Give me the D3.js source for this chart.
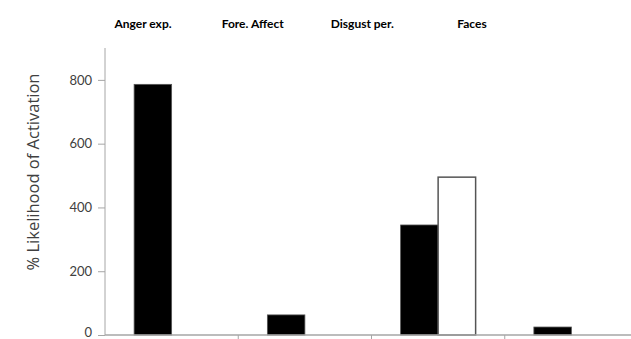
<!DOCTYPE html>
<html><head><meta charset="utf-8">
<script src="https://cdn.jsdelivr.net/npm/d3@7/dist/d3.min.js"></script>
<style>body{margin:0;background:#fff;} svg{display:block;}</style>
</head><body>
<svg id="chart" width="631" height="339"></svg>
<script>
const categories = ["Anger exp.", "Fore. Affect", "Disgust per.", "Faces"];
const series1 = [786, 63, 345, 25];
const series2 = [0, 0, 495, 0];
const yTicks = [0, 200, 400, 600, 800];
const yLabel = "% Likelihood of Activation";

const svg = d3.select("#chart");
const font = "Lato, 'Open Sans', sans-serif";
const x = d3.scaleBand().domain(categories).range([105, 638]).padding(0);
const y = d3.scaleLinear().domain([0, 900]).range([335, 48]);
const barW = 37.5;
const groupOff = (x.bandwidth() - 2 * barW) / 2;

// bars
const g = svg.append("g");
g.selectAll("rect.s1").data(categories).join("rect")
  .attr("x", (d) => x(d) + groupOff)
  .attr("y", (d, i) => y(series1[i]))
  .attr("width", barW)
  .attr("height", (d, i) => y(0) - y(series1[i]))
  .attr("fill", "#000").attr("stroke", "#555").attr("stroke-width", 0.8);
g.selectAll("rect.s2").data(categories.filter((d, i) => series2[i] > 0)).join("rect")
  .attr("x", (d) => x(d) + groupOff + barW)
  .attr("y", (d) => y(series2[categories.indexOf(d)]))
  .attr("width", barW)
  .attr("height", (d) => y(0) - y(series2[categories.indexOf(d)]))
  .attr("fill", "#fff").attr("stroke", "#555").attr("stroke-width", 1.5);

// y axis
const yAxis = svg.append("g").attr("transform", "translate(105,0)")
  .call(d3.axisLeft(y).tickValues(yTicks).tickSize(7).tickPadding(6));
yAxis.select(".domain").attr("stroke", "#a6a6a6").attr("d", `M0,${y(900)}V${y(0)}`);
yAxis.selectAll(".tick line").attr("stroke", "#a6a6a6");
yAxis.selectAll(".tick text").attr("fill", "#404040").attr("font-family", font).attr("font-size", 13)
  .attr("dy", (d) => d === 0 ? "0.1em" : "0.32em");

// x axis
const xAxis = svg.append("g").attr("transform", `translate(0,${y(0)})`);
xAxis.append("line").attr("x1", 105).attr("x2", 638).attr("stroke", "#a6a6a6").attr("stroke-width", 1.5);
xAxis.selectAll("line.t").data(categories.slice(1)).join("line")
  .attr("x1", (d) => x(d)).attr("x2", (d) => x(d))
  .attr("y1", 0).attr("y2", 4).attr("stroke", "#a6a6a6");

// category labels at top
const lx = d3.scalePoint().domain(categories).range([143, 472]);
svg.append("g").selectAll("text").data(categories).join("text")
  .attr("x", (d) => lx(d)).attr("y", 28)
  .attr("text-anchor", "middle")
  .attr("font-family", font).attr("font-weight", "bold").attr("font-size", 12)
  .attr("fill", "#000").text((d) => d);

// y label
svg.append("text")
  .attr("transform", "translate(39,172) rotate(-90)")
  .attr("text-anchor", "middle")
  .attr("font-family", "'Open Sans', sans-serif").attr("font-size", 16.5)
  .attr("fill", "#404040").text(yLabel);
</script>
</body></html>
